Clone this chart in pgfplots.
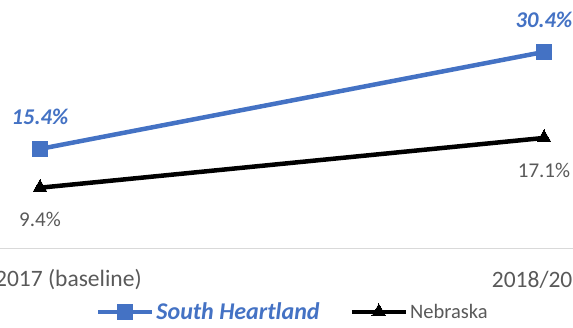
\documentclass[border=0pt]{standalone}
\usepackage{fontspec}
\setmainfont{Carlito}
\usepackage{pgfplots}
\pgfplotsset{compat=1.18}
\definecolor{shblue}{HTML}{4472C4}
\definecolor{txtgray}{HTML}{595959}
\definecolor{axgray}{HTML}{D9D9D9}

\begin{document}
\begin{tikzpicture}
\clip (0pt,-78.5pt) rectangle (573pt,248.5pt);
\begin{axis}[
  at={(0pt,0pt)}, anchor=south west, scale only axis,
  width=573pt, height=248.5pt,
  xmin=-0.0794, xmax=1.0575, ymin=0, ymax=38.43,
  axis x line=bottom, axis y line=none,
  x axis line style={draw=axgray, line width=1.2pt, -},
  xtick={0,1}, xticklabels={2016/2017 (baseline), 2018/2019},
  major tick length=0pt,
  xticklabel style={font=\fontsize{23.5}{27}\selectfont, text=txtgray, anchor=center, yshift=-31.5pt},
  clip=false,
  /pgf/number format/assume math mode=true,
  legend columns=2,
  legend style={at={(0.511,-0.2555)}, anchor=center, draw=none, fill=none,
    font=\fontsize{20.5}{24}\selectfont, text=txtgray, inner sep=0pt,
    /tikz/every even column/.append style={column sep=28pt}},
  legend image code/.code={\draw[mark repeat=2,mark phase=2,#1] plot coordinates {(0pt,0pt) (27pt,0pt) (54pt,0pt)};},
]
% South Heartland
\addplot[color=shblue, line width=4.5pt, mark=square*, mark size=7.5pt,
  mark options={line width=0pt, fill=shblue, draw=shblue},
  nodes near coords={\pgfmathprintnumber[fixed,precision=1,fixed zerofill]{\pgfplotspointmeta}\%},
  every node near coord/.append style={anchor=center, yshift=32pt, text=shblue,
    font=\fontsize{22.5}{26}\selectfont\bfseries\itshape}]
  coordinates {(0,15.4) (1,30.4)};
\addlegendentry{\textcolor{shblue}{\fontsize{24}{28}\selectfont\bfseries\itshape South Heartland}}
% Nebraska
\addplot[color=black, line width=4.5pt, mark=triangle*, mark size=8pt,
  mark options={line width=0pt, fill=black},
  nodes near coords={\pgfmathprintnumber[fixed,precision=1,fixed zerofill]{\pgfplotspointmeta}\%},
  every node near coord/.append style={anchor=center, yshift=-32pt, text=txtgray,
    font=\fontsize{21}{25}\selectfont}]
  coordinates {(0,9.4) (1,17.1)};
\addlegendentry{Nebraska}
\end{axis}
\end{tikzpicture}
\end{document}
